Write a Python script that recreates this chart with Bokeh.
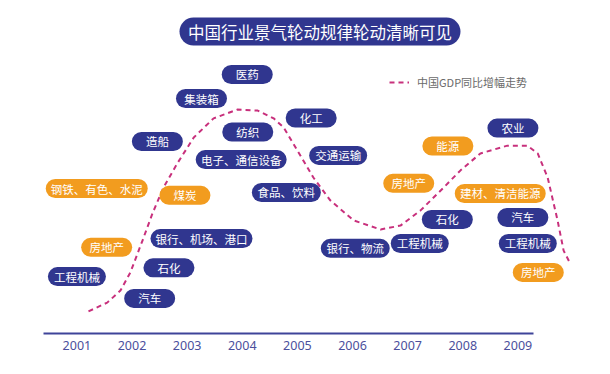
from bokeh.plotting import figure
from bokeh.models import Range1d, FixedTicker, ColumnDataSource, Legend, LegendItem
from bokeh.core.properties import value
from bokeh.embed import file_html
from bokeh.resources import INLINE

# ---------------- data ----------------
years = [2001, 2002, 2003, 2004, 2005, 2006, 2007, 2008, 2009]
year_labels = [str(y) for y in years]

title_text = "中国行业景气轮动规律轮动清晰可见"
legend_text = "中国GDP同比增幅走势"

# China GDP growth trend (relative level 0-100)
gdp_x = [2001.21, 2001.55, 2001.79, 2001.97, 2002.19, 2002.37, 2002.57, 2002.82,
         2003.12, 2003.48, 2003.91, 2004.28, 2004.57, 2004.75, 2005.00, 2005.29,
         2005.60, 2006.02, 2006.51, 2006.87, 2007.23, 2007.60, 2007.96, 2008.32,
         2008.81, 2009.17, 2009.36, 2009.54, 2009.72, 2009.83, 2009.95]
gdp_y = [6.8, 9.5, 13.2, 18.8, 28.6, 36.9, 44.9, 52.3,
         60.3, 66.2, 68.9, 68.6, 66.2, 63.4, 56.3, 48.0,
         40.9, 34.8, 32.0, 33.2, 37.8, 44.0, 50.2, 55.4,
         57.8, 57.8, 55.4, 48.0, 34.8, 25.5, 21.5]

# sectors: name, year position, level, group (0 = navy, 1 = orange)
sector_names = ["钢铁、有色、水泥", "房地产", "工程机械", "造船", "煤炭",
                "银行、机场、港口", "石化", "汽车", "集装箱", "医药",
                "纺织", "电子、通信设备", "化工", "交通运输", "食品、饮料",
                "银行、物流", "工程机械", "石化", "房地产", "能源",
                "农业", "建材、清洁能源", "汽车", "工程机械", "房地产"]
sector_x = [2001.36, 2001.54, 2001.00, 2002.46, 2002.96,
            2003.26, 2002.67, 2002.32, 2003.26, 2004.09,
            2004.10, 2003.98, 2005.25, 2005.74, 2004.80,
            2006.05, 2007.22, 2007.72, 2007.02, 2007.73,
            2008.91, 2008.68, 2009.09, 2009.18, 2009.37]
sector_y = [44.6, 26.5, 17.5, 59.1, 42.5,
            29.2, 20.2, 10.8, 72.3, 79.7,
            62.0, 53.5, 66.3, 54.8, 43.4,
            26.2, 27.7, 35.1, 46.2, 57.7,
            63.2, 43.1, 35.7, 27.7, 18.8]
sector_group = [1, 1, 0, 0, 1,
                0, 0, 0, 0, 0,
                0, 0, 0, 0, 0,
                0, 0, 0, 1, 1,
                0, 1, 0, 0, 1]

# ---------------- styling ----------------
NAVY = "#30368f"
ORANGE = "#f29c1f"
CURVE = "#c8307c"
AXIS = "#3f4499"
CJK = "Noto Sans CJK SC"

group_colors = [NAVY, ORANGE]
pill_w = [max(51, 11 * len(n) + 14) for n in sector_names]

src = ColumnDataSource(dict(
    x=sector_x, y=sector_y, name=sector_names,
    color=[group_colors[g] for g in sector_group], w=pill_w,
))

p = figure(width=594, height=358, output_backend="svg", toolbar_location=None,
           x_range=Range1d(1999.614, 2010.390), y_range=Range1d(0, 102.46),
           y_axis_location=None, x_axis_location="below",
           min_border_left=0, min_border_right=0, min_border_top=0, min_border_bottom=25)
p.background_fill_color = "white"
p.border_fill_color = "white"
p.outline_line_color = None
p.xgrid.visible = False
p.ygrid.visible = False

ax = p.xaxis[0]
ax.ticker = FixedTicker(ticks=years)
ax.major_label_overrides = {y: s for y, s in zip(years, year_labels)}
ax.bounds = (2000.39, 2009.28)
ax.axis_line_color = AXIS
ax.axis_line_width = 2
ax.major_tick_line_color = None
ax.minor_tick_line_color = None
ax.major_label_standoff = 1
ax.major_label_text_color = "#4b4f9c"
ax.major_label_text_font = "Noto Sans"
ax.major_label_text_font_size = "12.5px"

# GDP curve
curve = p.line(gdp_x, gdp_y, line_color=CURVE, line_width=2, line_dash="5 4",
               line_join="round")

# pills
p.rect("x", "y", width="w", height=19, width_units="screen", height_units="screen",
       fill_color="color", line_color=None, border_radius=10, source=src)
p.text("x", "y", text="name", source=src, text_align="center", text_baseline="middle",
       text_color="white", text_font=value(CJK), text_font_size="11.5px")

# title pill
p.rect([2005.41], [92.9], width=281, height=28, width_units="screen", height_units="screen",
       fill_color=NAVY, line_color=None, border_radius=14)
p.text([2005.41], [92.9], text=[title_text], text_align="center", text_baseline="middle",
       text_color="white", text_font=value(CJK), text_font_size="16.5px")

legend = Legend(items=[LegendItem(label=legend_text, renderers=[curve])],
                location=(389, 243), orientation="vertical",
                padding=0, margin=0, spacing=0,
                border_line_color=None, background_fill_alpha=0,
                glyph_width=20, glyph_height=14, label_height=14, label_standoff=8,
                label_text_font=CJK, label_text_font_size="11px",
                label_text_color="#6a6a6a")
p.add_layout(legend)

open("out.html", "w").write(file_html(p, INLINE))
